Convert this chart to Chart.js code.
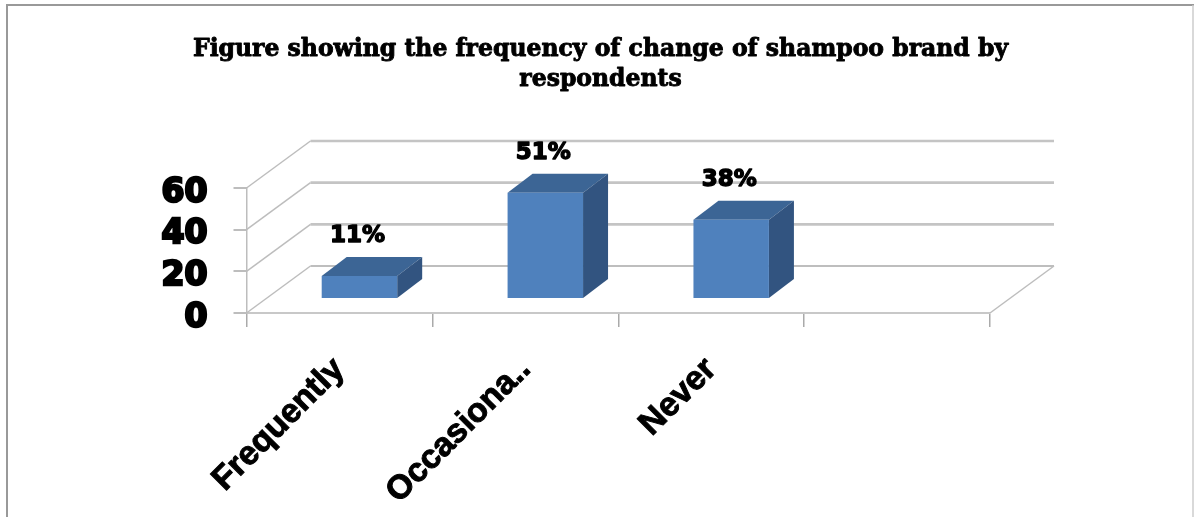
<!DOCTYPE html>
<html><head><meta charset="utf-8">
<script src="https://cdn.jsdelivr.net/npm/chart.js@4"></script>
<style>html,body{margin:0;padding:0;background:#fff}canvas{display:block;filter:blur(0.5px)}</style>
</head><body><canvas id="c" width="1194" height="517"></canvas>
<script>
const categories = ["Frequently", "Occasiona..", "Never", ""];
const respondents = [11, 51, 38, null];
const yTicks = [0, 20, 40, 60];
const titleLines = ["Figure showing the frequency of change of shampoo brand by", "respondents"];

const DEPTH_X = 64, DEPTH_Y = 47;
const BAR_SHIFT_X = 20, BAR_SHIFT_Y = -14;
const BAR_DX = 25, BAR_DY = 19;
const TITLE_FONT = 'bold 23.5px "DejaVu Serif"';

const scene3d = {
  id: 'scene3d',
  beforeDraw(chart) {
    const c = chart.ctx;
    c.save();
    c.fillStyle = '#fff'; c.fillRect(0, 0, chart.width, chart.height);
    c.strokeStyle = '#999'; c.lineWidth = 2;
    c.beginPath(); c.moveTo(7, 517); c.lineTo(7, 5); c.lineTo(1194, 5); c.stroke();
    c.strokeStyle = '#ccc'; c.lineWidth = 1.5;
    c.beginPath(); c.moveTo(1193, 5); c.lineTo(1193, 517); c.stroke();
    c.restore();
  },
  beforeDatasetsDraw(chart) {
    const c = chart.ctx, y = chart.scales.y, a = chart.chartArea;
    c.save();
    yTicks.forEach(v => {
      const p = y.getPixelForValue(v);
      c.strokeStyle = v === 0 ? '#a8a8a8' : '#c4c4c4';
      c.lineWidth = v === 0 ? 1.5 : 2.6;
      c.beginPath();
      c.moveTo(a.left + DEPTH_X, p - DEPTH_Y);
      c.lineTo(a.right + DEPTH_X, p - DEPTH_Y);
      c.stroke();
      c.strokeStyle = '#bdbdbd'; c.lineWidth = 1.5;
      c.beginPath();
      c.moveTo(a.left, p);
      c.lineTo(a.left + DEPTH_X, p - DEPTH_Y);
      c.stroke();
    });
    const p0 = y.getPixelForValue(0);
    c.beginPath();
    c.moveTo(a.right, p0);
    c.lineTo(a.right + DEPTH_X, p0 - DEPTH_Y);
    c.stroke();
    c.restore();
  },
  beforeDatasetDraw(chart, args) {
    const c = chart.ctx;
    c.save();
    c.translate(BAR_SHIFT_X, BAR_SHIFT_Y);
    args.meta.data.forEach((b, i) => {
      if (respondents[i] == null) return;
      const l = b.x - b.width / 2, r = b.x + b.width / 2;
      c.fillStyle = '#3c6595';
      c.beginPath();
      c.moveTo(l, b.y); c.lineTo(l + BAR_DX, b.y - BAR_DY);
      c.lineTo(r + BAR_DX, b.y - BAR_DY); c.lineTo(r, b.y);
      c.closePath(); c.fill();
      c.fillStyle = '#325480';
      c.beginPath();
      c.moveTo(r, b.y); c.lineTo(r + BAR_DX, b.y - BAR_DY);
      c.lineTo(r + BAR_DX, b.base - BAR_DY); c.lineTo(r, b.base);
      c.closePath(); c.fill();
    });
  },
  afterDatasetDraw(chart) { chart.ctx.restore(); },
  afterDatasetsDraw(chart) {
    const c = chart.ctx, meta = chart.getDatasetMeta(0);
    c.save();
    c.fillStyle = '#000'; c.strokeStyle = '#000'; c.lineWidth = 1.4; c.lineJoin = 'round';
    c.font = 'bold 23px "DejaVu Sans"';
    c.textAlign = 'center'; c.textBaseline = 'middle';
    meta.data.forEach((b, i) => {
      if (respondents[i] == null) return;
      const t = respondents[i] + '%', x = b.x + BAR_SHIFT_X - 2, y = b.y + BAR_SHIFT_Y - 40;
      c.strokeText(t, x, y);
      c.fillText(t, x, y);
    });
    // thicken the title, which is very heavy in the reference
    const tb = chart.titleBlock;
    c.font = TITLE_FONT; c.lineWidth = 0.9;
    titleLines.forEach((t, i) => {
      c.strokeText(t, (tb.left + tb.right) / 2, tb.top + 50 + i * 30);
    });
    c.restore();
  }
};

new Chart(document.getElementById('c'), {
  type: 'bar',
  data: {
    labels: categories,
    datasets: [{ data: respondents, backgroundColor: '#4f81bd', borderWidth: 0,
                 barPercentage: 0.406, categoryPercentage: 1 }]
  },
  options: {
    responsive: false,
    animation: false,
    layout: { padding: { left: 7 } },
    plugins: {
      legend: { display: false },
      tooltip: { enabled: false },
      title: {
        display: true,
        text: titleLines,
        color: '#000',
        font: { family: '"DejaVu Serif"', weight: 'bold', size: 23.5, lineHeight: 30 / 23.5 },
        padding: { top: 35, bottom: 93 }
      }
    },
    scales: {
      x: {
        afterFit: s => { s.height = 204; },
        grid: { drawOnChartArea: false, color: '#aaa', lineWidth: 1.5, tickLength: 14, offset: true },
        border: { color: '#c8c8c8', width: 2 },
        ticks: { autoSkip: false, minRotation: 45, maxRotation: 45, padding: 23, color: '#000',
                 textStrokeColor: '#000', textStrokeWidth: 1,
                 font: { family: '"Liberation Sans"', weight: 'bold', size: 33.5 } }
      },
      y: {
        min: 0, max: 60,
        afterFit: s => { s.width = 239.5; },
        afterBuildTicks: s => { s.ticks = yTicks.map(v => ({ value: v })); },
        grid: { drawOnChartArea: false, color: '#bdbdbd', lineWidth: 2, tickLength: 13 },
        border: { color: '#bdbdbd', width: 1.5 },
        ticks: { autoSkip: false, padding: 26, labelOffset: 5, color: '#000',
                 textStrokeColor: '#000', textStrokeWidth: 2.5,
                 font: { family: '"DejaVu Sans"', weight: 'bold', size: 33 } }
      },
      pad: {
        position: 'right', display: true,
        afterFit: s => { s.width = 204; },
        grid: { display: false }, border: { display: false }, ticks: { display: false }
      }
    }
  },
  plugins: [scene3d]
});
</script></body></html>
